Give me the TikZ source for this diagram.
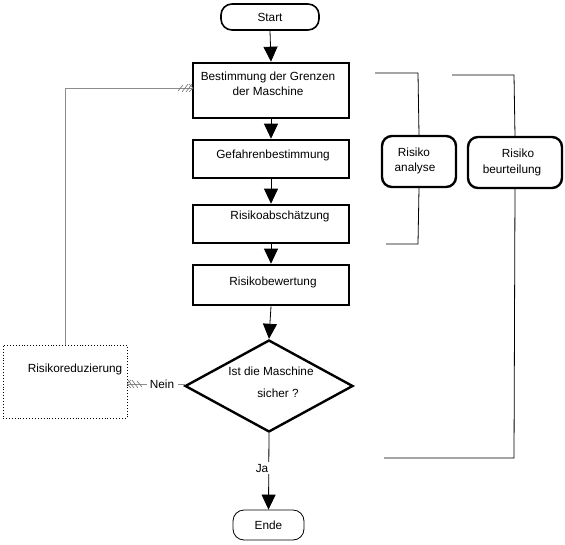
\documentclass[tikz,border=0pt]{standalone}
\usepackage{fontspec}
\setmainfont{Liberation Sans}
\usetikzlibrary{arrows.meta,shapes.geometric}
\begin{document}
\begin{tikzpicture}[x=1pt,y=-1pt,
  font=\fontsize{11.8}{14}\selectfont,
  procbox/.style={draw,line width=2.6pt,inner sep=0pt},
  termbox/.style={draw,rounded corners=11pt,inner sep=0pt},
  sidebox/.style={draw,line width=2.4pt,rounded corners=10pt,inner sep=0pt,align=center},
  decbox/.style={draw,diamond,line width=2.4pt,inner sep=0pt},
  txt/.style={inner sep=0pt,anchor=base},
  flow/.style={-{Triangle[width=14pt,length=15pt]},line width=0.8pt},
  thin/.style={line width=0.8pt},
  grayline/.style={line width=0.6pt,draw=black!45},
  hatch/.pic={\draw[line width=0.6pt,black!55] (-15,3)--(-10,-3) (-11,4)--(-5,-4) (-7,4)--(-1,-4) (-4,-4)--(0,0)--(-4,4);}
]
\useasboundingbox (0,0) rectangle (565,544);
% nodes
\node[termbox,line width=1.6pt,minimum width=98pt,minimum height=26pt] (start) at (270,17) {};
\node[txt] (tstart) at (270,21) {Start};
\node[procbox,minimum width=156pt,minimum height=55pt] (b1) at (271,90.5) {};
\node[txt] (t1a) at (268,80) {Bestimmung der Grenzen};
\node[txt] (t1b) at (268,95) {der Maschine};
\node[procbox,minimum width=156pt,minimum height=38pt] (b2) at (271,159) {};
\node[txt] (t2) at (273,158) {Gefahrenbestimmung};
\node[procbox,minimum width=156pt,minimum height=38pt] (b3) at (271,224) {};
\node[txt] (t3) at (280,219) {Risikoabschätzung};
\node[procbox,minimum width=156pt,minimum height=40pt] (b4) at (271,285) {};
\node[txt] (t4) at (273,285) {Risikobewertung};
\node[decbox,minimum width=168pt,minimum height=92pt] (d) at (269,386) {};
\node[txt] (td1) at (271,375) {Ist die Maschine};
\node[txt] (td2) at (278,397) {sicher ?};
\node[termbox,line width=0.8pt,minimum width=71pt,minimum height=30pt] (ende) at (268.5,525) {};
\node[txt] (tende) at (268.5,529) {Ende};
\node[draw,dotted,line width=0.9pt,minimum width=124pt,minimum height=73pt,inner sep=0pt] (red) at (65,381.5) {};
\node[txt] (tred) at (75,372) {Risikoreduzierung};
\node[sidebox,minimum width=74pt,minimum height=51pt] (ra) at (419,161.5) {};
\node[txt] (tra1) at (414,156) {Risiko};
\node[txt] (tra2) at (415,171) {analyse};
\node[sidebox,minimum width=94pt,minimum height=51pt] (rb) at (515,162.5) {};
\node[txt] (trb1) at (518,157) {Risiko};
\node[txt] (trb2) at (512,173) {beurteilung};
\node[txt] (nein) at (162,388) {Nein};
% coordinates
\coordinate (a1) at (375,73);
\coordinate (a2) at (418,73);
\coordinate (a3) at (418,244);
\coordinate (a4) at (386,244);
\coordinate (c1) at (452,75);
\coordinate (c2) at (514,75);
\coordinate (c3) at (514,458);
\coordinate (c4) at (384,458);
\coordinate (fb) at (65,88);
\coordinate (fbe) at (193,88);
\coordinate (rbe) at (127,384);
\coordinate (nl) at (147,384);
\coordinate (nr) at (178,384);
\coordinate (dw) at (185,384);
% flow
\draw[flow] (start.south) -- (b1.north);
\draw[flow] (b1.south) -- (b2.north);
\draw[flow] (b2.south) -- (b3.north);
\draw[flow] (b3.south) -- (b4.north);
\draw[flow] (b4.south) -- (d.north);
\draw[flow] (d.south) -- (ende.north);
\node[txt,fill=white,inner sep=1.5pt] (ja) at (262,472) {Ja};
% brackets
\draw[thin] (a1) -- (a2) -- (ra.north);
\draw[thin] (ra.south) -- (a3) -- (a4);
\draw[thin] (c1) -- (c2) -- (rb.north);
\draw[thin] (rb.south) -- (c3) -- (c4);
% feedback
\draw[grayline] (dw) -- (nr);
\draw[grayline] (nl) -- (rbe);
\pic at (rbe) [xscale=-1] {hatch};
\draw[grayline] (red.north) -- (fb) -- (fbe);
\pic at (fbe) {hatch};
\end{tikzpicture}
\end{document}
